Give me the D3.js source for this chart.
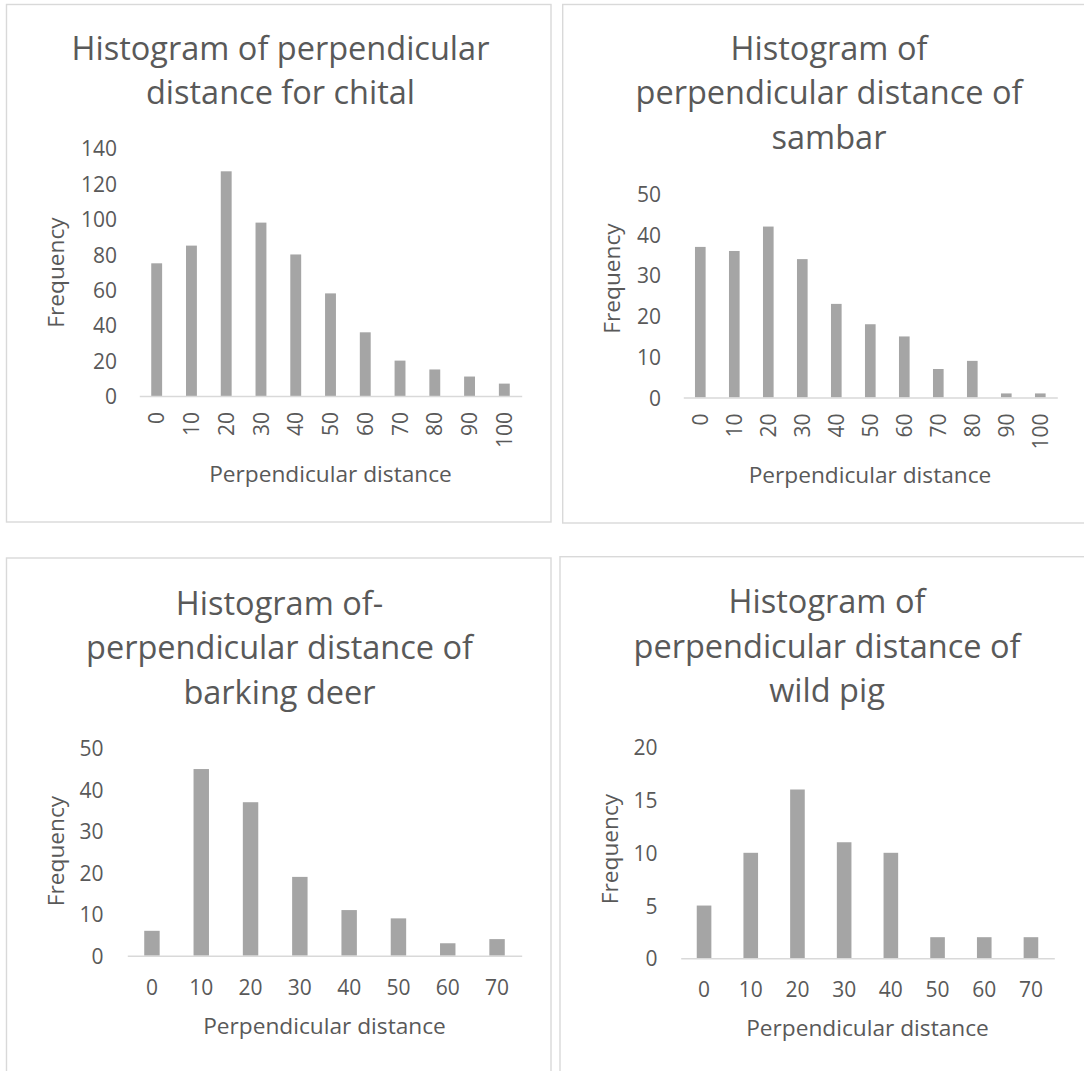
<!DOCTYPE html>
<html>
<head>
<meta charset="utf-8">
<script src="https://cdn.jsdelivr.net/npm/d3@7"></script>
<style>
  html, body { margin: 0; padding: 0; background: #ffffff; }
  svg { display: block; }
  text { font-family: "Open Sans", "Noto Sans", sans-serif; fill: #595959; }
</style>
</head>
<body>
<svg id="chart" width="1084" height="1071"></svg>
<script>
// Distance classes (m) and observed frequencies per species
const distanceClassesLong = ["0", "10", "20", "30", "40", "50", "60", "70", "80", "90", "100"];
const distanceClassesShort = ["0", "10", "20", "30", "40", "50", "60", "70"];

const chitalCounts = [75, 85, 127, 98, 80, 58, 36, 20, 15, 11, 7];
const sambarCounts = [37, 36, 42, 34, 23, 18, 15, 7, 9, 1, 1];
const barkingDeerCounts = [6, 45, 37, 19, 11, 9, 3, 4];
const wildPigCounts = [5, 10, 16, 11, 10, 2, 2, 2];

const chitalTicks = [0, 20, 40, 60, 80, 100, 120, 140];
const sambarTicks = [0, 10, 20, 30, 40, 50];
const barkingDeerTicks = [0, 10, 20, 30, 40, 50];
const wildPigTicks = [0, 5, 10, 15, 20];

const chitalTitle = ["Histogram of perpendicular", "distance for chital"];
const sambarTitle = ["Histogram of", "perpendicular distance of", "sambar"];
const barkingDeerTitle = ["Histogram of-", "perpendicular distance of", "barking deer"];
const wildPigTitle = ["Histogram of", "perpendicular distance of", "wild pig"];

const xAxisTitle = "Perpendicular distance";
const yAxisTitle = "Frequency";

// Panel geometry
const panels = [
  {
    categories: distanceClassesLong, values: chitalCounts, ticks: chitalTicks, title: chitalTitle,
    frame: [6.5, 4.5, 551, 522],
    titleX: 280.5, titleY: [60, 103.5],
    plotX: [139.3, 521.7], plotY: [396, 148.3],
    yLabelRight: 117, yTitle: [64, 272.5],
    rotated: true, xTitle: [330.5, 482]
  },
  {
    categories: distanceClassesLong, values: sambarCounts, ticks: sambarTicks, title: sambarTitle,
    frame: [562.7, 4.5, 1100, 523],
    titleX: 829, titleY: [59.5, 104, 148.5],
    plotX: [683.3, 1057.3], plotY: [397.5, 194],
    yLabelRight: 661, yTitle: [620, 278.5],
    rotated: true, xTitle: [870, 483]
  },
  {
    categories: distanceClassesShort, values: barkingDeerCounts, ticks: barkingDeerTicks, title: barkingDeerTitle,
    frame: [6.5, 558, 551, 1090],
    titleX: 279.5, titleY: [614.5, 659, 703.5],
    plotX: [127.3, 521.7], plotY: [955.7, 748.3],
    yLabelRight: 103.5, yTitle: [64, 851],
    rotated: false, xTitle: [324.5, 1034]
  },
  {
    categories: distanceClassesShort, values: wildPigCounts, ticks: wildPigTicks, title: wildPigTitle,
    frame: [560, 556.7, 1100, 1090],
    titleX: 827, titleY: [613, 657.5, 702],
    plotX: [680.7, 1054.3], plotY: [958.3, 747.3],
    yLabelRight: 657.5, yTitle: [618, 849],
    rotated: false, xTitle: [867.5, 1036]
  }
];

const svg = d3.select("#chart");
svg.append("rect").attr("width", 1084).attr("height", 1071).attr("fill", "#ffffff");

const gapRatio = 0.687; // bar gap relative to category width
const tickFont = "21px";
const axisTitleFont = "22.7px";

panels.forEach(p => {
  const g = svg.append("g");

  // chart frame
  g.append("rect")
    .attr("x", p.frame[0]).attr("y", p.frame[1])
    .attr("width", p.frame[2] - p.frame[0]).attr("height", p.frame[3] - p.frame[1])
    .attr("fill", "none").attr("stroke", "#d9d9d9").attr("stroke-width", 1.4);

  // title
  const title = g.append("text")
    .attr("text-anchor", "middle")
    .style("font-size", "32.5px");
  p.title.forEach((line, i) => {
    title.append("tspan").attr("x", p.titleX).attr("y", p.titleY[i]).text(line);
  });

  const x = d3.scaleBand()
    .domain(p.categories)
    .range(p.plotX)
    .paddingInner(gapRatio)
    .paddingOuter(gapRatio / 2);

  const y = d3.scaleLinear()
    .domain([0, d3.max(p.ticks)])
    .range(p.plotY);

  // bars
  g.append("g").selectAll("rect")
    .data(p.values)
    .join("rect")
    .attr("x", (d, i) => x(p.categories[i]))
    .attr("width", x.bandwidth())
    .attr("y", d => y(d))
    .attr("height", d => y(0) - y(d))
    .attr("fill", "#a5a5a5");

  // value axis
  const yAxis = g.append("g")
    .attr("transform", `translate(${p.yLabelRight},0)`)
    .call(d3.axisLeft(y).tickValues(p.ticks).tickSize(0).tickPadding(0).tickFormat(d3.format("d")));
  yAxis.select(".domain").remove();
  yAxis.selectAll("text")
    .style("font-size", tickFont)
    .style("font-family", "'Open Sans', sans-serif")
    .attr("fill", "#595959")
    .attr("dy", "0.36em");

  // category axis
  const xAxis = g.append("g")
    .attr("transform", `translate(0,${y(0)})`)
    .call(d3.axisBottom(x).tickSize(0).tickSizeOuter(0));
  xAxis.select(".domain").attr("stroke", "#d9d9d9").attr("stroke-width", 1.5);
  const xt = xAxis.selectAll("text")
    .style("font-size", tickFont)
    .style("font-family", "'Open Sans', sans-serif")
    .attr("fill", "#595959");
  if (p.rotated) {
    xt.attr("transform", "rotate(-90)")
      .attr("x", -16).attr("y", 0).attr("dy", "0.36em")
      .style("text-anchor", "end");
  } else {
    xt.attr("y", 39).attr("dy", 0);
  }

  // axis titles
  g.append("text")
    .attr("x", p.xTitle[0]).attr("y", p.xTitle[1])
    .attr("text-anchor", "middle")
    .style("font-size", axisTitleFont)
    .text(xAxisTitle);

  g.append("text")
    .attr("transform", `translate(${p.yTitle[0]},${p.yTitle[1]}) rotate(-90)`)
    .attr("text-anchor", "middle")
    .style("font-size", axisTitleFont)
    .text(yAxisTitle);
});
</script>
</body>
</html>
